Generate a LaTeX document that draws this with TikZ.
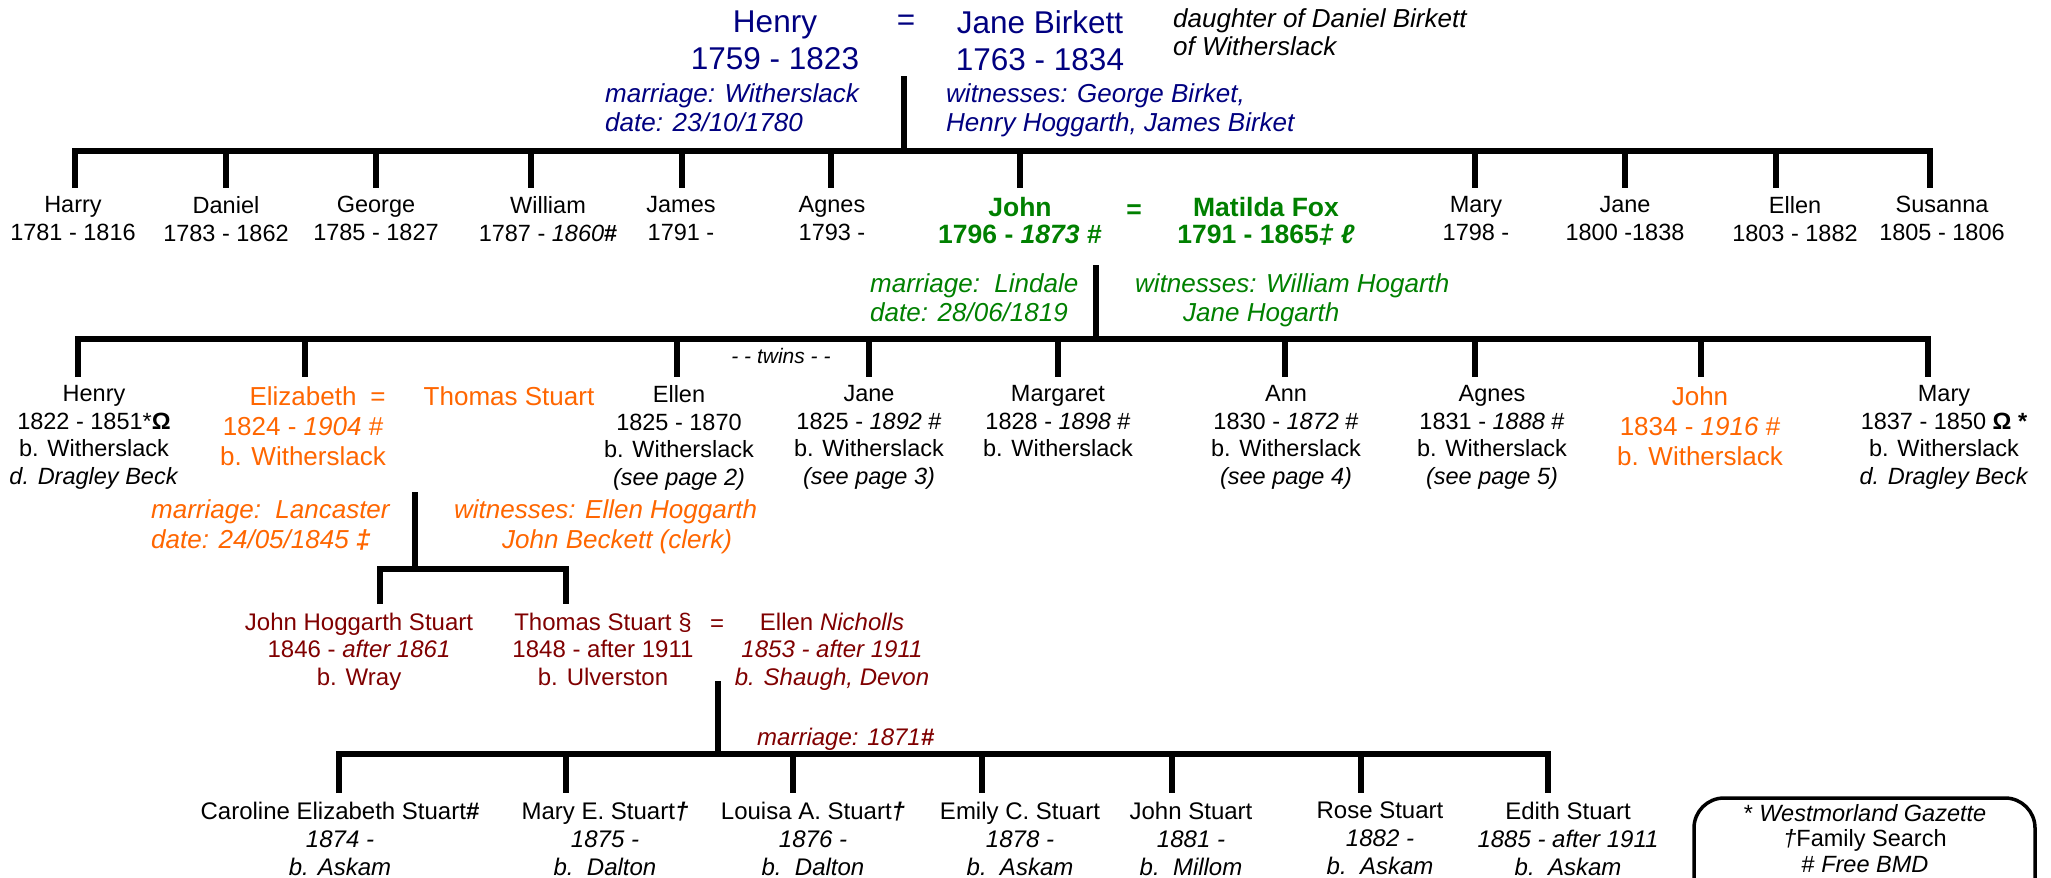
\documentclass[tikz,border=0pt]{standalone}
\usepackage{fontspec}
\setmainfont{Liberation Sans}
\definecolor{tblue}{RGB}{0,0,128}
\definecolor{tgreen}{RGB}{0,128,0}
\definecolor{torange}{RGB}{255,102,0}
\definecolor{tred}{RGB}{128,0,0}
\newcommand{\fsz}[2]{\fontsize{#1}{#2}\selectfont}
\tikzset{
  bar/.style={line width=5.5pt, line join=miter, line cap=butt},
  pers/.style={align=center, inner sep=0pt, anchor=north},
  topname/.style={pers, text=tblue, font=\fsz{31.5}{37}},
  note/.style={align=left, inner sep=0pt, anchor=north west, font=\fsz{26}{29}\itshape},
  body/.style={pers, font=\fsz{23.5}{27.7}},
  greenname/.style={pers, text=tgreen, font=\fsz{26.5}{27}\bfseries},
  orangename/.style={pers, text=torange, font=\fsz{26}{30}},
  redname/.style={pers, text=tred, font=\fsz{24}{27.5}},
  kid/.style={pers, font=\fsz{24}{28}},
  eqsign/.style={inner sep=0pt, anchor=base},
}
\begin{document}
\begin{tikzpicture}[x=1pt,y=-1pt]
\useasboundingbox (0,0) rectangle (2051,878);
\clip (0,0) rectangle (2051,878);
\fill[white] (0,0) rectangle (2051,878);

% ---------- generation 0 ----------
\node[topname] (henry) at (775,10.3) {Henry\\1759 - 1823};
\node[eqsign, text=tblue, font=\fsz{31.5}{37}] (eq1) at (906,30) {=};
\node[topname] (janeb) at (1040,10.3) {Jane Birkett\\1763 - 1834};
\node[note, font=\fsz{26}{28}\itshape] (daughter) at (1173,8.3) {daughter of Daniel Birkett\\of Witherslack};
\node[note, text=tblue] (marr1) at (605,83.3) {marriage: Witherslack\\date: 23/10/1780};
\node[note, text=tblue] (wit1) at (946,83.3) {witnesses: George Birket,\\Henry Hoggarth, James Birket};
\coordinate (m1top) at (904,76);
\coordinate (m1bot) at (904,151);
\draw[bar] (m1top) -- (m1bot);
\draw[bar] (75,188) -- (75,151) -- (1930,151) -- (1930,188);
\foreach \x in {226,376,531,682,831,1020,1475,1625,1776}
  \draw[bar] (\x,151) -- (\x,188);

% ---------- generation 1 ----------
\node[body] (harry) at (73,196.1) {Harry\\1781 - 1816};
\node[body] (daniel) at (226,196.1) {Daniel\\1783 - 1862};
\node[body] (george) at (376,196.1) {George\\1785 - 1827};
\node[body] (william) at (548,196.1) {William\\1787 - \textit{1860}\textbf{\#}};
\node[body] (james) at (681,196.1) {James\\1791 -};
\node[body] (agnesa) at (832,196.1) {Agnes\\1793 -};
\node[greenname] (johna) at (1020,197) {John\\1796 - \textit{1873} \#};
\node[eqsign, text=tgreen, font=\fsz{26.5}{27}\bfseries] (eq2) at (1134,218) {=};
\node[greenname] (matilda) at (1266,197) {Matilda Fox\\1791 - 1865\textit{‡ ℓ}};
\node[body] (marya) at (1476,196.1) {Mary\\1798 -};
\node[body] (janea) at (1625,196.1) {Jane\\1800 -1838};
\node[body] (ellena) at (1795,196.1) {Ellen\\1803 - 1882};
\node[body] (susanna) at (1942,196.1) {Susanna\\1805 - 1806};

\node[note, text=tgreen] (marr2) at (870,273.3) {marriage:\ \ Lindale\\date: 28/06/1819};
\node[note, text=tgreen] (wit2) at (1135,273.3) {witnesses: William Hogarth\\\hspace*{48pt}Jane Hogarth};
\coordinate (m2top) at (1096,265);
\coordinate (m2bot) at (1096,339);
\draw[bar] (m2top) -- (m2bot);
\draw[bar] (78,377) -- (78,339) -- (1928,339) -- (1928,377);
\foreach \x in {305,677,869,1058,1285,1475,1701}
  \draw[bar] (\x,339) -- (\x,377);
\node[inner sep=0pt, anchor=base, font=\fsz{21}{24}\itshape] (twins) at (781,363) {- - twins - -};

% ---------- generation 2 ----------
\node[body] (henryb) at (94,385.1) {Henry\\1822 - 1851*\textbf{Ω}\\b. Witherslack\\\textit{d. Dragley Beck}};
\node[orangename] (elizabeth) at (303,386.3) {Elizabeth\\1824 - \textit{1904} \#\\b. Witherslack};
\node[eqsign, text=torange, font=\fsz{26}{30}] (eq3) at (378,405) {=};
\node[eqsign, text=torange, font=\fsz{26}{30}] (thomasa) at (509,405) {Thomas Stuart};
\node[body] (ellenb) at (679,385.1) {Ellen\\1825 - 1870\\b. Witherslack\\\textit{(see page 2)}};
\node[body] (janeb2) at (869,385.1) {Jane\\1825 - \textit{1892} \#\\b. Witherslack\\\textit{(see page 3)}};
\node[body] (margaret) at (1058,385.1) {Margaret\\1828 - \textit{1898} \#\\b. Witherslack};
\node[body] (ann) at (1286,385.1) {Ann\\1830 - \textit{1872} \#\\b. Witherslack\\\textit{(see page 4)}};
\node[body] (agnesb) at (1492,385.1) {Agnes\\1831 - \textit{1888} \#\\b. Witherslack\\\textit{(see page 5)}};
\node[orangename] (johnb) at (1700,386.3) {John\\1834 - \textit{1916} \#\\b. Witherslack};
\node[body] (maryb) at (1944,385.1) {Mary\\1837 - 1850 \textbf{Ω *}\\b. Witherslack\\\textit{d. Dragley Beck}};

\node[note, text=torange, font=\fsz{26}{30}\itshape] (marr3) at (151,499.3) {marriage:\ \ Lancaster\\date: 24/05/1845 \textbf{‡}};
\node[note, text=torange, font=\fsz{26}{30}\itshape] (wit3) at (454,499.3) {witnesses: Ellen Hoggarth\\\hspace*{48pt}John Beckett (clerk)};
\coordinate (m3top) at (415,492);
\coordinate (m3bot) at (415,569);
\draw[bar] (m3top) -- (m3bot);
\draw[bar] (380,604) -- (380,569) -- (566,569) -- (566,604);

% ---------- generation 3 ----------
\node[redname] (jhs) at (359,612.7) {John Hoggarth Stuart\\1846 - \textit{after 1861}\\b. Wray};
\node[redname] (thomasb) at (603,612.7) {Thomas Stuart §\\1848 - after 1911\\b. Ulverston};
\node[eqsign, text=tred, font=\fsz{24}{27.5}] (eq4) at (717,631) {=};
\node[redname] (ellenn) at (832,612.7) {Ellen \textit{Nicholls}\\\textit{1853 - after 1911}\\\textit{b. Shaugh, Devon}};
\node[inner sep=0pt, anchor=base west, text=tred, font=\fsz{24}{27.5}\itshape] (marr4) at (757,745) {marriage: 1871\textbf{\#}};
\coordinate (m4top) at (718,681);
\coordinate (m4bot) at (718,754);
\draw[bar] (m4top) -- (m4bot);
\draw[bar] (339,793) -- (339,754) -- (1548,754) -- (1548,793);
\foreach \x in {566,793,982,1172,1361}
  \draw[bar] (\x,754) -- (\x,793);

% ---------- generation 4 ----------
\node[kid] (caroline) at (340,801.7) {Caroline Elizabeth Stuart\textbf{\#}\\\textit{1874 -}\\\textit{b. Askam}};
\node[kid] (marye) at (605,801.7) {Mary E. Stuart\textbf{\textit{†}}\\\textit{1875 -}\\\textit{b.\ \ Dalton}};
\node[kid] (louisa) at (813,801.7) {Louisa A. Stuart\textbf{\textit{†}}\\\textit{1876 -}\\\textit{b.\ \ Dalton}};
\node[kid] (emily) at (1020,801.7) {Emily C. Stuart\\\textit{1878 -}\\\textit{b.\ \ Askam}};
\node[kid] (johns) at (1191,801.7) {John Stuart\\\textit{1881 -}\\\textit{b.\ \ Millom}};
\node[kid] (rose) at (1380,801.7) {Rose Stuart\\\textit{1882 -}\\\textit{b.\ \ Askam}};
\node[kid] (edith) at (1568,801.7) {Edith Stuart\\\textit{1885 - after 1911}\\\textit{b.\ \ Askam}};

% ---------- legend ----------
\draw[line width=3.5pt, rounded corners=30pt] (1694,940) -- (1694,798) -- (2035,798) -- (2035,940);
\node[pers, font=\fsz{23.5}{25.5}] (legend) at (1865,804) {* \textit{Westmorland Gazette}\\\textit{†}Family Search\\\# \textit{Free BMD}};
\end{tikzpicture}
\end{document}
